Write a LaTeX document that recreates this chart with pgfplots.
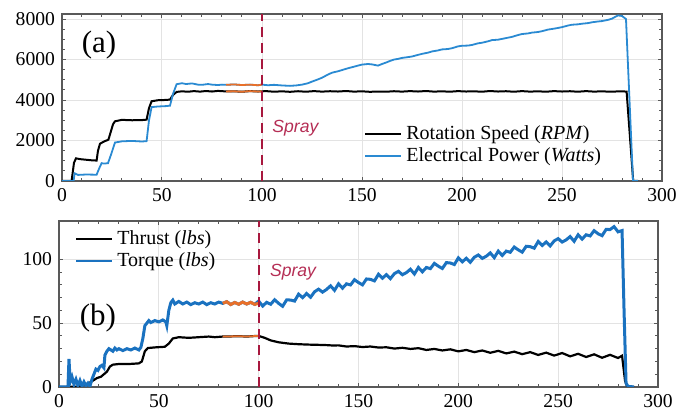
\documentclass[border=0pt]{standalone}
\usepackage{pgfplots}
\pgfplotsset{compat=1.18}
\usepackage{fontspec}
\setmainfont{Liberation Serif}
\newfontfamily\sprayfont{Liberation Sans}
\definecolor{mblue}{HTML}{2A8AD2}
\definecolor{mblue2}{HTML}{1A72C0}
\definecolor{morange}{HTML}{E8702A}
\definecolor{mred}{HTML}{A8183E}
\definecolor{sprayc}{HTML}{B52E55}
\pgfplotsset{
  myaxis/.style={
    scale only axis, xmin=0, xmax=300,
    xtick={0,50,100,150,200,250,300},
    xticklabels={0,50,100,150,200,250,300},
    minor x tick num=4,
    tick align=inside, major tick length=2.2pt, minor tick length=1.3pt,
    grid=major, major grid style={gray!22, line width=0.5pt},
    axis line style={black!65, line width=0.6pt},
    every tick/.style={black!65, line width=0.5pt},
    tick label style={font=\rmfamily\fontsize{9.8}{10}\selectfont},
    /pgf/number format/assume math mode=true,
    /pgf/number format/1000 sep={},
    legend style={draw=none, fill=none, font=\fontsize{10}{11}\selectfont, row sep=-1.5pt, inner sep=1pt},
    legend cell align=left,
    legend image code/.code={\draw[#1] (0pt,0pt) -- (18pt,0pt);},
  }
}
\begin{document}
\begin{tikzpicture}
\useasboundingbox (0,0) rectangle (338pt,208.5pt);
% ---------------- (a) ----------------
\begin{axis}[myaxis, at={(31pt,118pt)}, anchor=south west,
  width=300pt, height=83.5pt, ymin=0, ymax=8250,
  ytick={0,2000,4000,6000,8000}, yticklabels={0,2000,4000,6000,8000}, minor y tick num=3,
  legend style={at={(0.5,0.37)}, anchor=north west}]
\addplot[black, line width=1pt] coordinates {
(0,0) (4.8,0) (6,900) (7,1120) (9,1080) (12,1050) (15,1020) (17.3,1010) (18,1500) (19,1840) (21,1950) (23.2,2040) (24,2300) (25.5,2800) (26.5,2950) (30,3020) (35,3000) (40,3010) (42.3,3030) (43.5,3600) (44.8,3940) (48,3990) (51,4000) (54,4020) (55.5,4250) (57.3,4400)
(60,4430) (63,4410) (66,4440) (69,4415) (72,4445) (75,4420) (78,4450) (82,4425)
(86,4430) (90,4410) (94,4440) (98,4420) (102,4440) (106,4410) (110,4430) (114,4405) (118,4435) (122,4410) (126,4440) (130,4415) (134,4435) (138,4420) (142,4445) (146,4415) (150,4430) (154,4405) (158,4420) (162,4410) (166,4435) (170,4415) (174,4440) (178,4420) (182,4445) (186,4415) (190,4430) (194,4410) (198,4440) (202,4420) (206,4430) (210,4410) (214,4445) (218,4420) (222,4435) (226,4410) (230,4440) (234,4415) (238,4430) (242,4410) (246,4440) (250,4420) (254,4435) (258,4410) (262,4440) (266,4415) (270,4430) (274,4410) (278,4425) (282.3,4420) (285.6,0) (288,0)
};
\addlegendentry{Rotation Speed (\textit{RPM})}
\addplot[mblue, line width=0.9pt] coordinates {
(0,0) (5.8,0) (6.3,380) (8,300) (12,320) (17.3,310) (18.5,600) (19.8,880) (21,860) (23,880) (24.5,1300) (26.5,1900) (30,1960) (35,1980) (40,1950) (42.3,1970) (43.5,3000) (44.8,3650) (48,3680) (52,3700) (54,3720) (55.5,4300) (57.3,4780) (60,4830) (62,4790) (65,4820) (68,4760) (70,4750) (73,4790) (75,4760) (78,4740) (80,4760) (82,4750)
(86,4770) (90,4740) (94,4760) (98,4730) (100,4760) (103,4730) (106,4750) (110,4720) (114,4700) (117,4720) (120,4760) (123,4830) (125,4910) (128,5020) (130,5100) (133,5260) (135,5350) (138,5420) (140,5480) (143,5570) (145,5620) (148,5700) (150,5750) (153,5780) (155,5760) (158,5700) (160,5780) (162,5850) (164,5930) (166,6000) (168,6030) (170,6080) (173,6120) (175,6150) (178,6230) (180,6280) (183,6340) (185,6400) (188,6450) (190,6500) (193,6520) (195,6560) (198,6650) (200,6680) (203,6690) (205,6720) (208,6800) (210,6830) (213,6900) (215,6960) (218,6980) (220,7020) (223,7080) (225,7120) (228,7210) (230,7260) (233,7290) (235,7330) (238,7360) (240,7400) (243,7480) (245,7510) (248,7560) (250,7600) (253,7680) (255,7720) (258,7740) (260,7770) (263,7800) (265,7840) (268,7880) (270,7900) (273,7960) (275,8020) (277,8130) (278,8180) (280,8150) (282,8000) (285.5,0) (288,0)
};
\addlegendentry{Electrical Power (\textit{Watts})}
\addplot[morange, line width=0.9pt, forget plot] coordinates {
(82,4425) (86,4430) (90,4410) (94,4440) (98,4420) (100,4430)};
\addplot[morange, line width=0.9pt, forget plot] coordinates {
(82,4750) (86,4770) (90,4740) (94,4760) (98,4730) (100,4760)};
\addplot[mred, dashed, line width=1pt, dash pattern=on 5pt off 3pt, forget plot] coordinates {(100,0) (100,8250)};
\node[font=\fontsize{15.5}{16}\selectfont] at (axis cs:18.5,6720) {(a)};
\node[font=\sprayfont\itshape\fontsize{8.8}{10}\selectfont, text=sprayc, anchor=west, inner sep=0pt] at (axis cs:105,2630) {Spray};
\end{axis}
% ---------------- (b) ----------------
\begin{axis}[myaxis, at={(29.5pt,15pt)}, anchor=south west,
  width=299.5pt, height=83pt, ymin=0, ymax=130,
  ytick={0,50,100}, yticklabels={0,50,100}, minor y tick num=4,
  legend style={at={(0.023,0.98)}, anchor=north west}]
\addplot[black, line width=1.1pt] coordinates {
(0,0) (10,0.3) (13,2) (15,3) (17,5) (19,7) (21,8) (22.5,10) (24,12) (25.5,16) (27,17.5) (30,18) (35,18) (40,18.5) (41.5,20) (43,28) (44.5,30.5) (48,31) (53,31.5) (55,34) (57,38) (60,39) (65,38.5) (70,39) (75,39.5) (78,39) (82,39.5)
(86,39.6) (90,39.8) (94,39.5) (98,39.9) (100,40) (103,38.5) (106,36.5) (110,35) (115,34) (120,33.5) (125,33.2) (130,33) (134,32.8) (137,32.5)
(140,32.6) (144,31.7) (148,32.0) (152,31.3) (156,31.7) (160,30.9) (164,31.1) (168,30.1) (172,30.7) (176,29.8) (180,30.4) (184,29.0) (188,29.8) (192,28.6) (196,29.5) (200,27.9) (204,29.0) (208,27.3) (212,28.6) (216,26.8) (220,28.3) (224,26.3) (228,27.7) (232,25.7) (236,27.3) (240,25.1) (244,26.9) (248,24.6) (252,26.6) (256,24.0) (260,26.0) (264,23.5) (268,25.6) (272,22.9) (276,25.2) (280,22.7) (282,24.5) (283.5,5) (284.5,0.5) (288,0)
};
\addlegendentry{Thrust (\textit{lbs})}
\addplot[mblue2, line width=1.5pt, legend image code/.code={\draw[mblue2, line width=1pt] (0pt,0pt) -- (18pt,0pt);}] coordinates {
(0,0) (4.5,0) (5,22) (5.6,4) (6.5,8) (7.5,2) (8.5,6) (9.5,1) (10.5,5) (11.5,0.5) (12.5,4) (13.5,1) (14.5,3) (15.5,0.5) (16.5,6) (17.5,10) (18.5,14) (19.5,13) (20.5,16) (21.5,17) (22.5,15) (23,25) (24,28) (25,30) (26,29) (27,28) (28,30.5) (29,29) (30,30) (32,28.5) (34,30) (36,29) (38,30.5) (40,29) (41,31) (42,38) (43,48) (44,50) (45,52) (46,50.5) (48,52) (50,51) (52,52.5) (53.5,51) (54,48) (55,60) (56,66) (57,68) (58,65) (60,67) (62,65) (64,66.5) (66,64.5) (68,66) (70,65) (72,66.5) (74,64.5) (76,66) (78,65) (80,66.5) (82,65.5)
(84,66.8) (86,64.6) (88,66.2) (90,64.8) (92,66.5) (94,65) (96,66.3) (98,64.7)
(100,67.3) (102,63.4) (104,66.3) (106,64.8) (108,68.3) (110,65.5) (112,63.2) (114,68.2) (116,68.1) (118,67.3) (120,72.7) (122,70.0) (124,73.2) (126,70.3) (128,74.6) (130,76.6) (132,74.3) (134,76.4) (136,79.2) (138,75.7) (140,80.8) (142,77.4) (144,80.8) (146,79.9) (148,84.0) (150,81.8) (152,80.0) (154,84.6) (156,84.3) (158,83.1) (160,88.3) (162,85.2) (164,88.0) (166,84.9) (168,88.8) (170,90.6) (172,87.9) (174,89.6) (176,92.2) (178,88.5) (180,93.6) (182,90.2) (184,93.6) (186,92.7) (188,96.8) (190,94.6) (192,92.8) (194,97.4) (196,97.1) (198,95.9) (200,101.1) (202,98.0) (204,100.8) (206,97.7) (208,101.6) (210,103.4) (212,100.7) (214,102.4) (216,105.0) (218,101.3) (220,106.4) (222,103.0) (224,106.4) (226,105.5) (228,109.6) (230,107.4) (232,105.6) (234,110.2) (236,109.9) (238,108.7) (240,113.9) (242,110.8) (244,113.6) (246,110.5) (248,114.4) (250,116.2) (252,113.5) (254,115.2) (256,117.8) (258,114.1) (260,119.2) (262,115.8) (264,119.2) (266,118.3) (268,122.4) (270,120.0) (272,118.5) (274,123.4) (276,123.3) (278,125.6) (280,121.5) (282,122.5) (283,60) (284,3) (285,0.5) (288,0)
};
\addlegendentry{Torque (\textit{lbs})}
\addplot[morange, line width=1.5pt, forget plot] coordinates {
(82,65.5) (84,66.8) (86,64.6) (88,66.2) (90,64.8) (92,66.5) (94,65) (96,66.3) (98,64.7) (100,65.5)};
\addplot[morange, line width=0.9pt, forget plot] coordinates {
(82,39.5) (86,39.6) (90,39.8) (94,39.5) (98,39.9) (100,40)};
\addplot[mred, dashed, line width=1pt, dash pattern=on 5pt off 3pt, forget plot] coordinates {(100,0) (100,130)};
\node[font=\fontsize{15.5}{16}\selectfont] at (axis cs:19.5,54) {(b)};
\node[font=\sprayfont\itshape\fontsize{8.8}{10}\selectfont, text=sprayc, anchor=west, inner sep=0pt] at (axis cs:105.5,90) {Spray};
\end{axis}
\end{tikzpicture}
\end{document}
